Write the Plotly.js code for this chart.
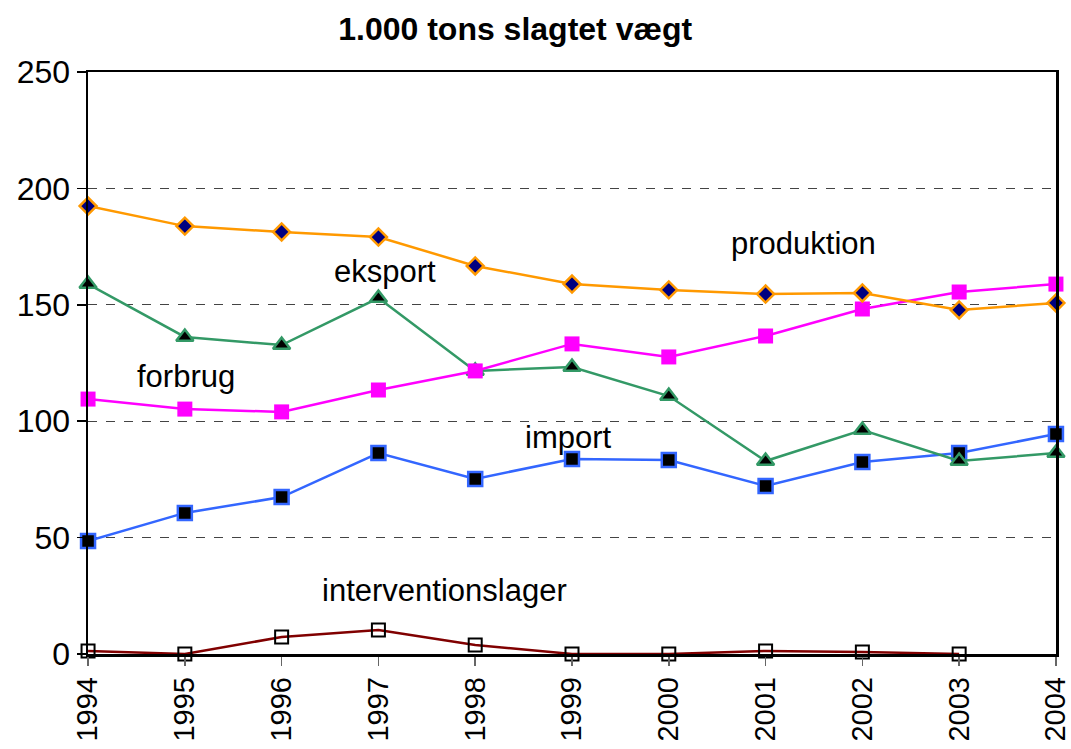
<!DOCTYPE html>
<html>
<head>
<meta charset="utf-8">
<script src="https://cdn.plot.ly/plotly-3.0.1.min.js"></script>
<style>html,body{margin:0;padding:0;background:#fff;}#chart{width:1071px;height:749px;}</style>
</head>
<body>
<div id="chart"></div>
<script>
const years = [1994, 1995, 1996, 1997, 1998, 1999, 2000, 2001, 2002, 2003, 2004];
const produktion = [192.4, 183.8, 181.3, 179.1, 166.7, 158.9, 156.4, 154.6, 155.1, 147.8, 150.8];
const eksport = [158.9, 136.2, 132.7, 152.9, 121.6, 123.3, 110.8, 82.9, 96.2, 82.9, 86.3];
const forbrug = [109.5, 105.2, 104.0, 113.4, 121.6, 133.2, 127.6, 136.6, 148.2, 155.5, 158.9];
const importVals = [48.5, 60.6, 67.4, 86.3, 75.2, 83.8, 83.3, 72.2, 82.5, 86.3, 94.5];
const interventionYears = [1994, 1995, 1996, 1997, 1998, 1999, 2000, 2001, 2002, 2003];
const interventionslager = [1.3, 0, 7.3, 10.3, 3.9, 0, 0, 1.3, 0.9, 0];

const labelTexts = ["produktion", "eksport", "forbrug", "import", "interventionslager"];
const labelX = [2001.39, 1997.07, 1995.01, 1998.96, 1997.68];
const labelY = [176.5, 164.1, 119.0, 93.2, 27.1];

const FONT = "Liberation Sans, Arial, sans-serif";

const traces = [
  {x: interventionYears, y: interventionslager, name: "interventionslager", mode: "lines+markers",
   line: {color: "#800000", width: 2.5},
   marker: {symbol: "square-open", size: 13, color: "#000000", line: {width: 2, color: "#000000"}}},
  {x: years, y: importVals, name: "import", mode: "lines+markers",
   line: {color: "#3366FF", width: 2.5},
   marker: {symbol: "square", size: 14, color: "#000000", line: {width: 2.5, color: "#3366FF"}}},
  {x: years, y: eksport, name: "eksport", mode: "lines+markers",
   line: {color: "#339966", width: 2.5},
   marker: {symbol: "triangle-up", size: 15, color: "#000000", line: {width: 2.5, color: "#339966"}}},
  {x: years, y: forbrug, name: "forbrug", mode: "lines+markers",
   line: {color: "#FF00FF", width: 2.5},
   marker: {symbol: "square", size: 15, color: "#FF00FF", line: {width: 0}}},
  {x: years, y: produktion, name: "produktion", mode: "lines+markers",
   line: {color: "#FF9900", width: 2.5},
   marker: {symbol: "diamond", size: 13, color: "#000080", line: {width: 2.5, color: "#FF9900"}}}
].map(t => Object.assign(t, {cliponaxis: false, hoverinfo: "x+y+name"}));

const annotations = labelTexts.map((t, i) => ({
  x: labelX[i], y: labelY[i], xref: "x", yref: "y", text: t, showarrow: false,
  font: {family: FONT, size: 31, color: "#000000"}, xanchor: "center", yanchor: "middle"
}));

const layout = {
  width: 1071, height: 749,
  margin: {l: 88, r: 15, t: 72, b: 95, pad: 0},
  paper_bgcolor: "#ffffff", plot_bgcolor: "#ffffff",
  showlegend: false,
  title: {text: "<b>1.000 tons slagtet vægt</b>", x: 0.481, xanchor: "center", y: 0.962, yanchor: "middle",
          font: {family: FONT, size: 32, color: "#000000"}},
  xaxis: {
    range: [1993.9995, 2004.0005], tickmode: "array", tickvals: years, ticktext: years.map(String),
    tickangle: -90, ticks: "outside", ticklen: 9, tickcolor: "#666666", tickwidth: 1.5,
    ticklabeloverflow: "allow",
    showgrid: false, zeroline: false,
    showline: true, linecolor: "#000000", linewidth: 2.5, mirror: true,
    tickfont: {family: FONT, size: 29, color: "#000000"}, fixedrange: true
  },
  yaxis: {
    range: [0, 250], tickmode: "array", tickvals: [0, 50, 100, 150, 200, 250],
    ticks: "outside", ticklen: 9, tickcolor: "#000000", tickwidth: 1.5,
    showgrid: true, gridcolor: "#444444", griddash: "dash", gridwidth: 1,
    zeroline: false, showline: true, linecolor: "#000000", linewidth: 2.5, mirror: true,
    tickfont: {family: FONT, size: 32, color: "#000000"}, fixedrange: true
  },
  annotations: annotations
};

Plotly.newPlot("chart", traces, layout, {displayModeBar: false, staticPlot: true});
</script>
</body>
</html>
